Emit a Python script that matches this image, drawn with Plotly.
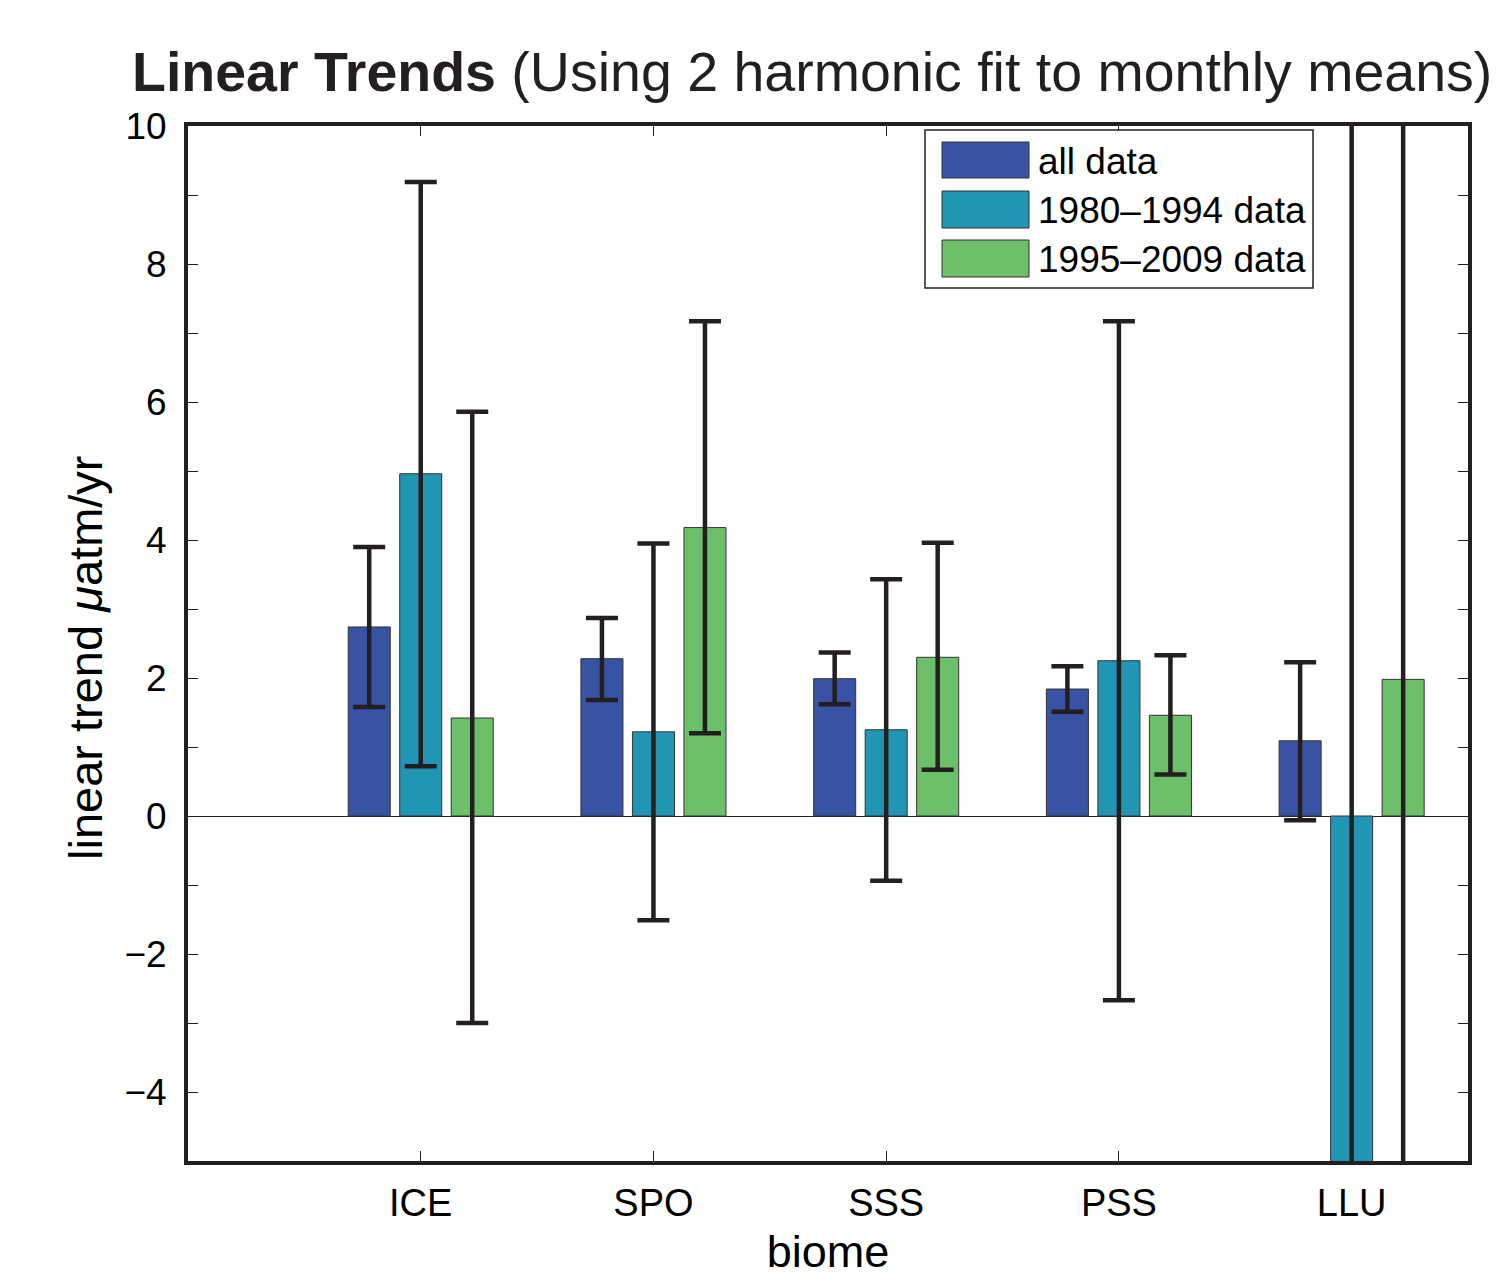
import plotly.graph_objects as go

# ---------------- data ----------------
biomes = ["ICE", "SPO", "SSS", "PSS", "LLU"]
series_names = ["all data", "1980\u20131994 data", "1995\u20132009 data"]

all_vals = [2.74, 2.28, 1.99, 1.84, 1.09]
all_hi = [3.90, 2.87, 2.37, 2.17, 2.23]
all_lo = [1.58, 1.68, 1.62, 1.51, -0.06]

early_vals = [4.96, 1.22, 1.25, 2.25, -8.5]
early_hi = [9.19, 3.95, 3.43, 7.17, 11.5]
early_lo = [0.72, -1.51, -0.94, -2.67, -28.5]

late_vals = [1.42, 4.18, 2.30, 1.46, 1.98]
late_hi = [5.86, 7.17, 3.96, 2.33, 14.0]
late_lo = [-3.00, 1.20, 0.67, 0.60, -10.0]

y_ticks = list(range(-5, 11))
colors = ["#3953a4", "#2196b4", "#6cc06a"]

# ---------------- figure ----------------
W, H = 1500, 1277
L, R, T, B = 188, 1468, 126, 1161
FONT = "Liberation Sans, Arial, Helvetica, sans-serif"
INK = "#231f20"

def px(x):
    return (x - L) / (R - L)

def py(y):
    return (B - y) / (B - T)

fig = go.Figure()
for name, vals, hi, lo, col in [
    (series_names[0], all_vals, all_hi, all_lo, colors[0]),
    (series_names[1], early_vals, early_hi, early_lo, colors[1]),
    (series_names[2], late_vals, late_hi, late_lo, colors[2]),
]:
    fig.add_trace(go.Bar(
        x=biomes, y=vals, name=name,
        marker=dict(color=col, line=dict(color="#333333", width=1)),
        error_y=dict(type="data", symmetric=False,
                     array=[h - v for h, v in zip(hi, vals)],
                     arrayminus=[v - l for v, l in zip(vals, lo)],
                     color=INK, thickness=4.5, width=16),
        showlegend=False,
    ))

fig.update_layout(
    width=W, height=H,
    margin=dict(l=L, r=W - R, t=T, b=H - B, autoexpand=False),
    paper_bgcolor="white", plot_bgcolor="white",
    barmode="group", bargap=0.336, bargroupgap=0.184,
    font=dict(family=FONT, color="black"),
    title=dict(
        text="<b>Linear Trends</b> (Using 2 harmonic fit to monthly means)",
        font=dict(size=55.5, family=FONT, color=INK),
        xref="container", x=132 / W, xanchor="left",
        yref="container", y=1 - 72 / H, yanchor="middle",
    ),
    showlegend=False,
)

fig.update_xaxes(
    type="category", range=[-1, 4.5],
    showline=True, linewidth=4, linecolor=INK, mirror="ticks",
    ticks="inside", ticklen=10, tickwidth=1, tickcolor=INK,
    tickfont=dict(size=38, family=FONT, color="black"),
    ticklabelstandoff=5,
    showgrid=False, zeroline=False,
    title=dict(text="biome", font=dict(size=45, family=FONT, color="black"), standoff=36),
)
fig.update_yaxes(
    range=[-5, 10],
    tickmode="array", tickvals=y_ticks,
    ticktext=[("\u2212" + str(-v) if v < 0 else str(v)) if v % 2 == 0 else "" for v in y_ticks],
    showline=True, linewidth=4, linecolor=INK, mirror="ticks",
    ticks="inside", ticklen=10, tickwidth=1, tickcolor=INK,
    tickfont=dict(size=37, family=FONT, color="black"),
    ticklabelstandoff=10,
    showgrid=False,
    zeroline=True, zerolinecolor=INK, zerolinewidth=1,
)

annotations = [dict(xref="paper", yref="paper", x=px(85), y=py(658),
                    xanchor="center", yanchor="middle", showarrow=False, textangle=-90,
                    text="linear trend <i>\u03bc</i>atm/yr",
                    font=dict(size=47, family=FONT, color="black"))]

# ---------------- custom legend ----------------
shapes = [dict(type="rect", xref="paper", yref="paper",
               x0=px(925), x1=px(1313), y0=py(288), y1=py(130),
               line=dict(color=INK, width=1.5), fillcolor="white", layer="above")]
patch_rows = [(142, 178), (191, 228), (240, 277)]
for (y0, y1), col, name in zip(patch_rows, colors, series_names):
    shapes.append(dict(type="rect", xref="paper", yref="paper",
                       x0=px(942), x1=px(1029), y0=py(y1), y1=py(y0),
                       line=dict(color="#333333", width=1), fillcolor=col, layer="above"))
    annotations.append(dict(xref="paper", yref="paper", x=px(1036), y=py((y0 + y1) / 2 + 1),
                            xanchor="left", yanchor="middle", showarrow=False,
                            text=name, font=dict(size=37, family=FONT, color="black")))
fig.update_layout(shapes=shapes, annotations=annotations)

fig.write_html("out.html")
